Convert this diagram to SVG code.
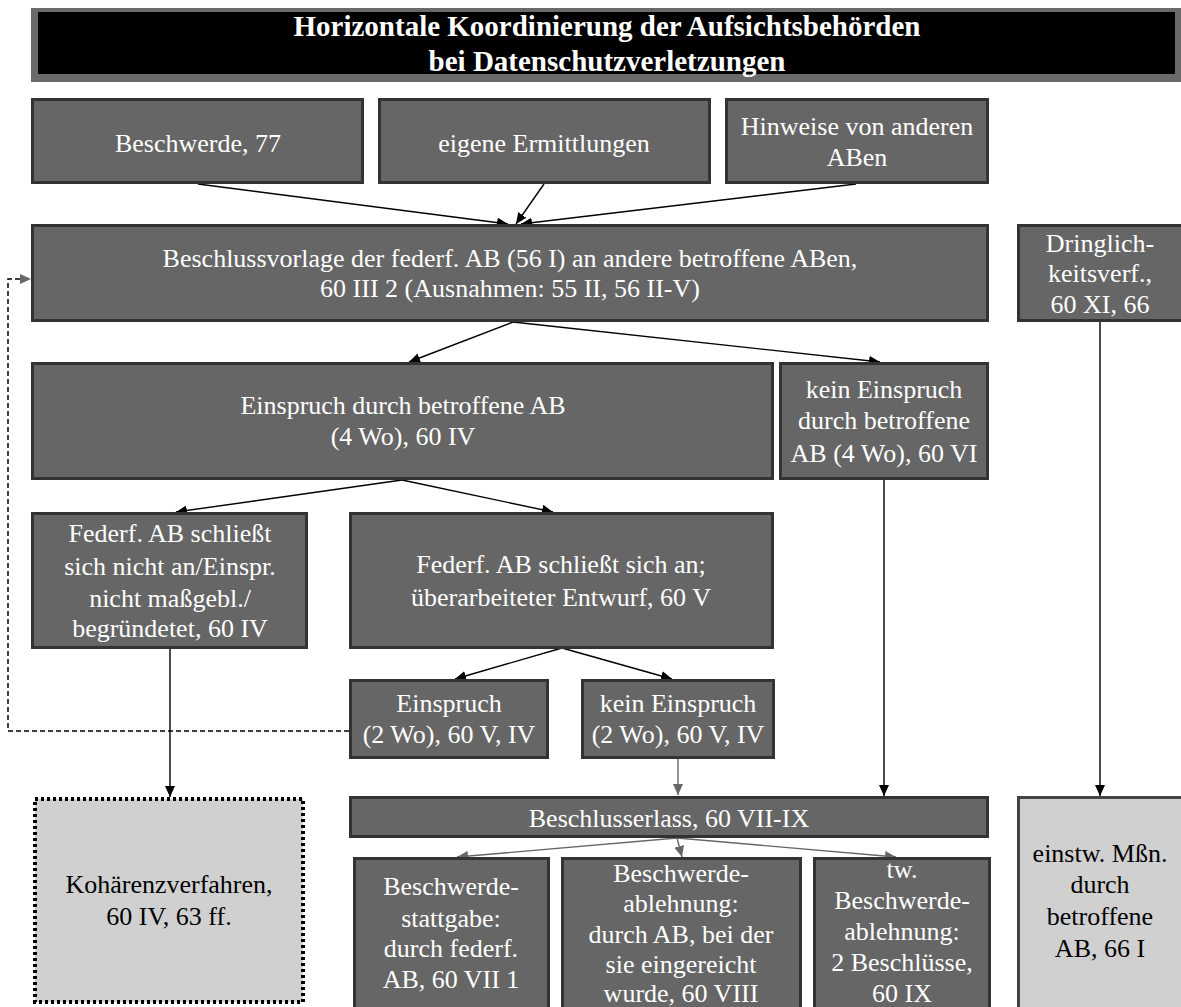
<svg xmlns="http://www.w3.org/2000/svg" width="1181" height="1007" viewBox="0 0 1181 1007">
<style>
.box{fill:#666666;stroke:#333333;stroke-width:3}
.lt{fill:#d0d0d0;stroke:#444444;stroke-width:3}
.dot{fill:#d0d0d0;stroke:#000000;stroke-width:4;stroke-dasharray:3,3}
.t{font-family:"Liberation Serif","Times New Roman",serif;font-size:26px;fill:#ffffff;text-anchor:middle}
.tb{font-family:"Liberation Serif","Times New Roman",serif;font-size:26px;fill:#000000;text-anchor:middle}
.title{font-family:"Liberation Serif","Times New Roman",serif;font-size:29px;font-weight:bold;fill:#ffffff;text-anchor:middle}
.c{stroke:#000000;stroke-width:1.4;fill:none}
.cg{stroke:#666666;stroke-width:1.4;fill:none}
.cd{stroke:#000000;stroke-width:1.5;fill:none;stroke-dasharray:5,3}
</style>
<defs>
<marker id="ab" markerUnits="userSpaceOnUse" markerWidth="12" markerHeight="10" refX="11" refY="5" orient="auto"><path d="M0,0 L11,5 L0,10 z" fill="#000000"/></marker>
<marker id="ag" markerUnits="userSpaceOnUse" markerWidth="12" markerHeight="10" refX="11" refY="5" orient="auto"><path d="M0,0 L11,5 L0,10 z" fill="#666666"/></marker>
</defs>
<rect x="0" y="0" width="1181" height="1007" fill="#ffffff"/>

<g id="title">
<rect x="31" y="8" width="1152" height="74" fill="#6a6a6a"/>
<rect x="38" y="12" width="1137" height="62" fill="#000000"/>
<text class="title" x="607" y="36">Horizontale Koordinierung der Aufsichtsbehörden</text>
<text class="title" x="607" y="71">bei Datenschutzverletzungen</text>
</g>

<g id="connectors">
<line class="c" x1="198" y1="184" x2="508" y2="224" marker-end="url(#ab)"/>
<line class="c" x1="544" y1="184" x2="516" y2="224" marker-end="url(#ab)"/>
<line class="c" x1="856" y1="184" x2="521" y2="224" marker-end="url(#ab)"/>
<line class="c" x1="513" y1="322" x2="409" y2="362" marker-end="url(#ab)"/>
<line class="c" x1="513" y1="322" x2="880" y2="362" marker-end="url(#ab)"/>
<line class="c" x1="402" y1="480" x2="176" y2="512" marker-end="url(#ab)"/>
<line class="c" x1="402" y1="480" x2="553" y2="512" marker-end="url(#ab)"/>
<line class="c" x1="562" y1="648" x2="455" y2="679" marker-end="url(#ab)"/>
<line class="c" x1="562" y1="648" x2="672" y2="679" marker-end="url(#ab)"/>
<line class="c" x1="170" y1="649" x2="170" y2="797" marker-end="url(#ab)"/>
<line class="c" x1="884" y1="480" x2="884" y2="796" marker-end="url(#ab)"/>
<line class="c" x1="1100" y1="322" x2="1100" y2="796" marker-end="url(#ab)"/>
<line class="cg" x1="678" y1="759" x2="678" y2="795" marker-end="url(#ag)"/>
<polyline class="cd" points="349,731 8,731 8,279 31,279" marker-end="url(#ag)"/>
<line class="cg" x1="677" y1="838" x2="457" y2="857" marker-end="url(#ag)"/>
<line class="cg" x1="677" y1="838" x2="682" y2="857" marker-end="url(#ag)"/>
<line class="cg" x1="677" y1="838" x2="896" y2="857" marker-end="url(#ag)"/>
</g>

<g id="beschwerde">
<rect class="box" x="32.5" y="99.5" width="330" height="83"/>
<text class="t" x="198" y="152">Beschwerde, 77</text>
</g>
<g id="ermittlungen">
<rect class="box" x="379.5" y="99.5" width="330" height="83"/>
<text class="t" x="544" y="152">eigene Ermittlungen</text>
</g>
<g id="hinweise">
<rect class="box" x="726.5" y="99.5" width="261" height="83"/>
<text class="t" x="857" y="135">Hinweise von anderen</text>
<text class="t" x="857" y="166">ABen</text>
</g>

<g id="beschlussvorlage">
<rect class="box" x="32.5" y="225.5" width="955" height="95"/>
<text class="t" x="510" y="267">Beschlussvorlage der federf. AB (56 I) an andere betroffene ABen,</text>
<text class="t" x="510" y="297">60 III 2 (Ausnahmen: 55 II, 56 II-V)</text>
</g>

<g id="dringlich">
<rect class="box" x="1018.5" y="225.5" width="164" height="95"/>
<text class="t" x="1100" y="252">Dringlich-</text>
<text class="t" x="1100" y="282">keitsverf.,</text>
<text class="t" x="1100" y="313">60 XI, 66</text>
</g>

<g id="einspruch">
<rect class="box" x="32.5" y="363.5" width="740" height="115"/>
<text class="t" x="403" y="414">Einspruch durch betroffene AB</text>
<text class="t" x="403" y="445">(4 Wo), 60 IV</text>
</g>

<g id="kein-einspruch">
<rect class="box" x="780.5" y="363.5" width="207" height="115"/>
<text class="t" x="884" y="398">kein Einspruch</text>
<text class="t" x="884" y="429">durch betroffene</text>
<text class="t" x="884" y="462">AB (4 Wo), 60 VI</text>
</g>

<g id="federf-nicht">
<rect class="box" x="32.5" y="513.5" width="274" height="134"/>
<text class="t" x="170" y="542">Federf. AB schließt</text>
<text class="t" x="170" y="575">sich nicht an/Einspr.</text>
<text class="t" x="170" y="607">nicht maßgebl./</text>
<text class="t" x="170" y="637">begründetet, 60 IV</text>
</g>

<g id="federf-an">
<rect class="box" x="350.5" y="513.5" width="422" height="134"/>
<text class="t" x="561" y="573">Federf. AB schließt sich an;</text>
<text class="t" x="561" y="606">überarbeiteter Entwurf, 60 V</text>
</g>

<g id="einspruch-2wo">
<rect class="box" x="350.5" y="680.5" width="197" height="77"/>
<text class="t" x="449" y="712">Einspruch</text>
<text class="t" x="449" y="743">(2 Wo), 60 V, IV</text>
</g>

<g id="kein-einspruch-2wo">
<rect class="box" x="582.5" y="680.5" width="191" height="77"/>
<text class="t" x="678" y="712">kein Einspruch</text>
<text class="t" x="678" y="743">(2 Wo), 60 V, IV</text>
</g>

<g id="kohaerenz">
<rect class="dot" x="35" y="799" width="268" height="203"/>
<text class="tb" x="169" y="893">Kohärenzverfahren,</text>
<text class="tb" x="169" y="925">60 IV, 63 ff.</text>
</g>

<g id="beschlusserlass">
<rect class="box" x="350.5" y="797.5" width="637" height="39"/>
<text class="t" x="669" y="827">Beschlusserlass, 60 VII-IX</text>
</g>

<g id="stattgabe">
<rect class="box" x="354.5" y="858.5" width="194" height="160"/>
<text class="t" x="451" y="895">Beschwerde-</text>
<text class="t" x="451" y="927">stattgabe:</text>
<text class="t" x="451" y="957">durch federf.</text>
<text class="t" x="451" y="988">AB, 60 VII 1</text>
</g>

<g id="ablehnung">
<rect class="box" x="562.5" y="858.5" width="238" height="160"/>
<text class="t" x="681" y="882">Beschwerde-</text>
<text class="t" x="681" y="912">ablehnung:</text>
<text class="t" x="681" y="943">durch AB, bei der</text>
<text class="t" x="681" y="973">sie eingereicht</text>
<text class="t" x="681" y="1002">wurde, 60 VIII</text>
</g>

<g id="tw-ablehnung">
<rect class="box" x="814.5" y="858.5" width="175" height="160"/>
<text class="t" x="902" y="878">tw.</text>
<text class="t" x="902" y="909">Beschwerde-</text>
<text class="t" x="902" y="940">ablehnung:</text>
<text class="t" x="902" y="971">2 Beschlüsse,</text>
<text class="t" x="902" y="1002">60 IX</text>
</g>

<g id="einstw">
<rect class="lt" x="1018.5" y="797.5" width="164" height="220"/>
<text class="tb" x="1100" y="862">einstw. Mßn.</text>
<text class="tb" x="1100" y="893">durch</text>
<text class="tb" x="1100" y="925">betroffene</text>
<text class="tb" x="1100" y="957">AB, 66 I</text>
</g>
</svg>
